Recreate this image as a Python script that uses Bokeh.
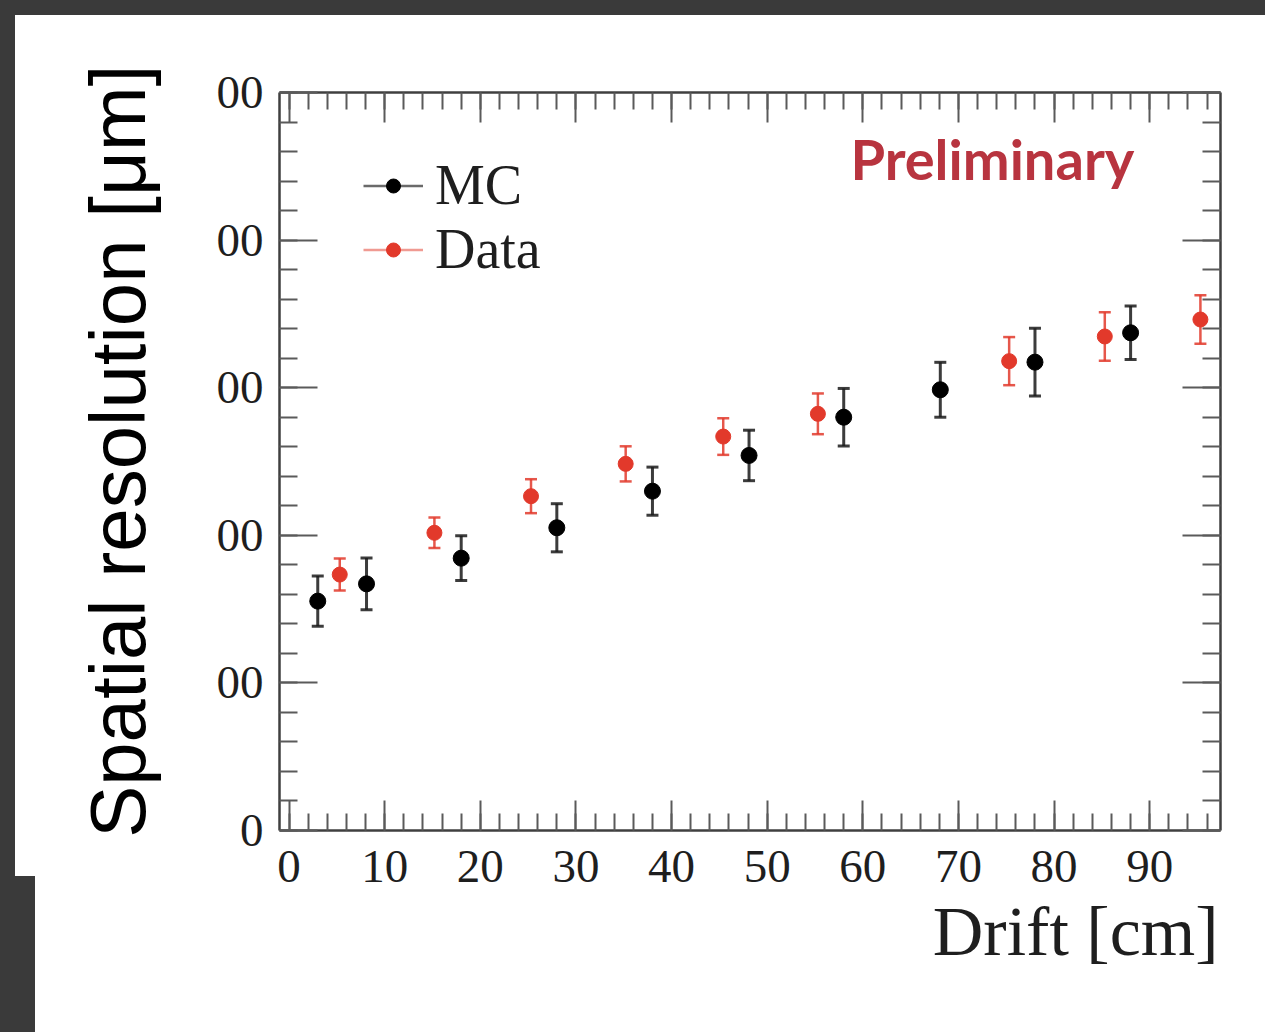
from bokeh.embed import file_html
from bokeh.models import (ColumnDataSource, FixedTicker, InlineStyleSheet, Label,
                          Legend, LegendItem, LinearAxis, Range1d, TeeHead, Title,
                          Whisker)
from bokeh.plotting import figure
from bokeh.resources import INLINE

# Spatial resolution [um] versus drift distance [cm], with statistical errors
mc_drift = [3.0, 8.1, 18.0, 28.0, 38.0, 48.1, 58.0, 68.1, 78.0, 88.0]
mc_res = [155.4, 167.1, 184.5, 205.1, 229.9, 254.1, 280.0, 298.6, 317.3, 337.2]
mc_err = [17.1, 17.6, 15.2, 16.3, 16.3, 17.1, 19.5, 18.6, 22.9, 18.1]

data_drift = [5.3, 15.2, 25.3, 35.2, 45.4, 55.3, 75.3, 85.3, 95.3]
data_res = [173.4, 201.7, 226.5, 248.4, 266.9, 282.3, 318.0, 334.7, 346.2]
data_err = [10.8, 10.3, 11.5, 11.9, 12.4, 13.8, 16.3, 16.4, 16.5]

x_major = [0, 10, 20, 30, 40, 50, 60, 70, 80, 90]
x_minor = list(range(0, 98, 2))
y_major = [0, 100, 200, 300, 400, 500]
y_minor = list(range(0, 501, 20))
y_tick_text = ["0", "00", "00", "00", "00", "00"]

SERIF = "Liberation Serif"
AXIS_GREY = "#3f3f3f"
TICK_GREY = "#5a5a5a"
RED = "#e2392b"

# white slide panel on a dark surround, painted behind the transparent border
slide_css = InlineStyleSheet(css="""
:host {
  background:
    linear-gradient(#ffffff, #ffffff) 15px 15px / 1250px 861px no-repeat,
    linear-gradient(#ffffff, #ffffff) 35px 876px / 1230px 156px no-repeat,
    #3a3a3a;
}
""")

p = figure(width=1265, height=1032,
           x_range=Range1d(-1.0, 97.4), y_range=Range1d(0, 500),
           output_backend="svg", toolbar_location=None,
           min_border_left=279, min_border_right=45,
           min_border_top=92, min_border_bottom=202,
           stylesheets=[slide_css])
p.grid.visible = False
p.outline_line_color = None
p.background_fill_color = "white"
p.border_fill_color = None


def style_axis(ax, major_len, minor_len, show_labels):
    ax.axis_line_color = AXIS_GREY
    ax.axis_line_width = 2.5
    ax.major_tick_in = major_len
    ax.major_tick_out = 0
    ax.minor_tick_in = minor_len
    ax.minor_tick_out = 0
    ax.major_tick_line_color = TICK_GREY
    ax.major_tick_line_width = 2
    ax.minor_tick_line_color = TICK_GREY
    ax.minor_tick_line_width = 2
    ax.major_label_text_font = SERIF
    ax.major_label_text_color = "#1e1e1e"
    ax.major_label_text_font_size = "47px"
    if not show_labels:
        ax.major_label_text_font_size = "1px"
        ax.major_label_text_alpha = 0
        ax.major_label_standoff = 0


x_ticker = FixedTicker(ticks=x_major, minor_ticks=x_minor)
y_ticker = FixedTicker(ticks=y_major, minor_ticks=y_minor)

xb = p.xaxis[0]
xb.ticker = x_ticker
style_axis(xb, 30, 17, True)
xb.major_label_standoff = 20

yl = p.yaxis[0]
yl.ticker = y_ticker
yl.major_label_overrides = {v: t for v, t in zip(y_major, y_tick_text)}
style_axis(yl, 38, 18, True)
yl.major_label_standoff = 16

xt = LinearAxis(ticker=x_ticker)
style_axis(xt, 30, 17, False)
p.add_layout(xt, "above")

yr = LinearAxis(ticker=y_ticker)
style_axis(yr, 38, 18, False)
p.add_layout(yr, "right")

# error bars and markers
mc_src = ColumnDataSource(dict(
    x=mc_drift, y=mc_res,
    lo=[v - e for v, e in zip(mc_res, mc_err)],
    hi=[v + e for v, e in zip(mc_res, mc_err)]))
data_src = ColumnDataSource(dict(
    x=data_drift, y=data_res,
    lo=[v - e for v, e in zip(data_res, data_err)],
    hi=[v + e for v, e in zip(data_res, data_err)]))

for src, col, lw in [(mc_src, "#1a1a1a", 3), (data_src, RED, 2.5)]:
    p.add_layout(Whisker(source=src, base="x", upper="hi", lower="lo",
                         dimension="height", line_color=col, line_width=lw,
                         line_alpha=0.85,
                         upper_head=TeeHead(size=12, line_color=col, line_width=lw, line_alpha=0.85),
                         lower_head=TeeHead(size=12, line_color=col, line_width=lw, line_alpha=0.85)))

mc_pts = p.scatter("x", "y", source=mc_src, size=16, color="black")
data_pts = p.scatter("x", "y", source=data_src, size=15, color=RED)

# legend swatches: a horizontal error-bar stroke behind each marker
# (the stroke renderers sit below the visible y range)
mc_leg_line = p.line([0, 1], [-100, -100], line_color="#6a6a6a", line_width=2.5)
data_leg_line = p.line([0, 1], [-100, -100], line_color="#f09a92", line_width=2.5)
legend = Legend(items=[LegendItem(label="MC", renderers=[mc_leg_line, mc_pts]),
                       LegendItem(label="Data", renderers=[data_leg_line, data_pts])],
                location=(84, 549), padding=0, margin=0, spacing=0,
                glyph_width=60, glyph_height=35, label_height=64,
                label_standoff=12,
                label_text_font=SERIF, label_text_font_size="56px",
                label_text_color="#1e1e1e",
                border_line_alpha=0, background_fill_alpha=0)
p.add_layout(legend)

p.add_layout(Label(x=58.7, y=455.5, text="Preliminary",
                   text_font="Lato", text_font_style="bold",
                   text_font_size="56px", text_color="#b8343f",
                   text_align="left", text_baseline="alphabetic"))

p.add_layout(Title(text="Drift [cm]", align="right", offset=2, standoff=13,
                   text_font=SERIF, text_font_size="70px",
                   text_font_style="normal", text_color="#1e1e1e"), "below")

p.add_layout(Title(text="Spatial resolution [μm]", align="right", offset=-28,
                   standoff=104, text_font="Liberation Sans",
                   text_font_size="78px", text_font_style="normal",
                   text_color="black"), "left")

open("out.html", "w").write(file_html(p, INLINE))
